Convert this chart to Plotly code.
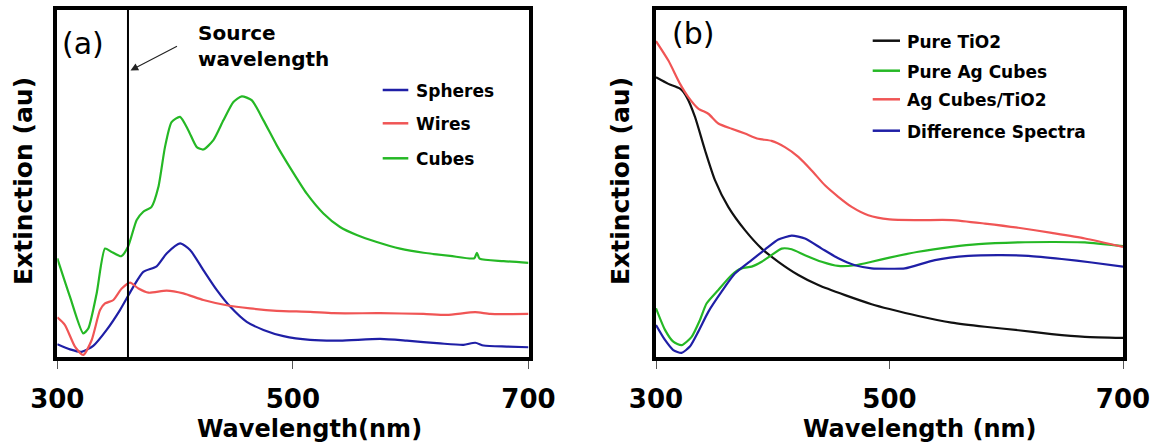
import plotly.graph_objects as go

W, H = 1163, 444

# ---------------- Panel (a): extinction of Ag nanostructures ----------------
wl_spheres = [300, 310.8, 320.6, 330.5, 341.9, 353.2, 364.5, 373, 384.3, 392.8, 404.2,
              412.7, 424, 435.3, 446.7, 460.8, 475, 492, 514.6, 540, 574, 596.7, 625,
              644.9, 654.8, 661.9, 681.6, 700]
ext_spheres = [3.7, 2.2, 1.5, 3.2, 7.8, 13.5, 20.2, 24.5, 26.1, 29.8, 32.7,
               30.8, 25.0, 19.3, 14.5, 10.1, 7.8, 6.0, 4.9, 4.7, 5.2, 4.7, 3.9,
               3.5, 4.1, 3.3, 3.0, 2.8]

wl_wires = [300, 306.5, 315, 322, 329.2, 336.3, 340.5, 347.6, 354.7, 361.8, 368.9,
            377.4, 392.8, 407, 424, 443.8, 463.6, 486.3, 514.6, 534.4, 574, 610.9,
            630.7, 654.8, 667.6, 700]
ext_wires = [11.4, 9.2, 3.0, 0.6, 4.9, 13.5, 15.4, 16.4, 19.7, 21.4, 19.7,
             18.5, 19.1, 18.3, 16.4, 14.9, 14.0, 13.3, 13.0, 12.6, 12.6, 12.4,
             12.1, 12.9, 12.4, 12.4]

wl_cubes = [300, 310.8, 322, 326.3, 333.4, 340.5, 345.8, 354.3, 360, 367.4, 373,
            380, 385.8, 391.4, 397, 404.2, 411.3, 418.4, 424, 432.5, 441, 449.5,
            456.6, 465, 475, 486.3, 497.6, 511.8, 525.9, 540, 554.2, 571.2, 591,
            610.9, 633.5, 654, 656.2, 658.5, 678.8, 700]
ext_cubes = [28.4, 17.3, 6.8, 8.2, 18.3, 31.2, 30.3, 29.0, 31.7, 39.4, 41.8,
             43.2, 48.9, 60.4, 67.6, 69.1, 65.2, 60.4, 59.7, 62.4, 68.1, 73.4,
             75.0, 73.9, 68.1, 60.9, 54.5, 47.0, 41.3, 37.4, 35.1, 33.1, 31.2,
             30.0, 29.1, 28.4, 30.0, 28.3, 27.6, 27.1]

SOURCE_NM = 360

# ---------------- Panel (b): Ag cubes on TiO2 ----------------
wl_tio2 = [300, 310.6, 320.6, 326.3, 333.4, 342, 350.5, 361.9, 376.2, 390.5, 404.8,
           421.9, 439, 461.9, 484.7, 500, 524.7, 553.2, 581.8, 610.3, 638.9, 667.4, 700]
ext_tio2 = [80.5, 78.6, 77.2, 74.8, 69.1, 59.5, 50.9, 43.2, 36.5, 31.2, 27.4,
            23.6, 20.7, 17.8, 15.2, 13.8, 11.8, 9.9, 8.7, 7.7, 6.6, 5.8, 5.5]

wl_agcubes = [300, 307.7, 314.8, 321.9, 330.5, 337.6, 343.3, 353.4, 364.8, 373.3,
              381.9, 390.5, 399, 407.6, 416.2, 427.6, 441.9, 456.1, 470.4, 484.7,
              500, 524.7, 553.2, 576.1, 610.3, 638.9, 667.4, 700]
ext_agcubes = [14.0, 7.8, 4.4, 3.4, 5.8, 10.6, 15.4, 19.3, 23.6, 25.5,
               26.0, 27.4, 29.3, 31.2, 31.0, 29.3, 27.4, 26.2, 26.4, 27.4,
               28.6, 30.3, 31.7, 32.5, 33.0, 33.1, 33.0, 31.9]

wl_agtio2 = [300, 310.6, 320.6, 327.7, 336.2, 344.8, 353.4, 364.8, 376.2, 387.6,
             399, 410.4, 421.9, 433.3, 444.7, 456.1, 467.6, 481.8, 500, 524.7,
             553.2, 581.8, 610.3, 638.9, 667.4, 700]
ext_agtio2 = [90.9, 85.3, 78.6, 74.8, 71.5, 70.0, 67.2, 65.7, 64.3, 62.8,
              62.2, 60.4, 57.6, 53.7, 49.4, 46.1, 43.2, 40.8, 39.6, 39.4,
              39.4, 38.4, 37.2, 35.7, 34.1, 31.7]

wl_diff = [300, 307.7, 314.8, 321.9, 329, 336.2, 344.8, 356.2, 367.6, 381.9,
           393.3, 404.8, 416.2, 427.6, 441.9, 456.1, 470.4, 484.7, 499, 513.2,
           538.9, 567.5, 596, 618.9, 647.5, 673.2, 700]
ext_diff = [9.2, 4.9, 2.0, 1.2, 3.0, 7.3, 13.0, 18.8, 24.0, 27.9,
            30.9, 33.8, 34.9, 34.1, 31.2, 28.4, 26.4, 25.5, 25.4, 25.5,
            27.9, 29.1, 29.3, 29.1, 28.2, 27.2, 26.0]

BLUE = "#1f1fa6"
RED = "#f05555"
GREEN = "#25b825"
BLACK = "#111111"

FONT = "DejaVu Sans"


def px(x):
    return x / W


def py(y):
    return 1 - y / H


fig = go.Figure()

line_kw = dict(mode="lines", line_shape="spline", showlegend=False, hoverinfo="skip")

series_a = [
    ("Spheres", wl_spheres, ext_spheres, BLUE),
    ("Wires", wl_wires, ext_wires, RED),
    ("Cubes", wl_cubes, ext_cubes, GREEN),
]
for name, xs, ys, col in series_a:
    fig.add_trace(go.Scatter(x=xs, y=ys, name=name, xaxis="x", yaxis="y",
                             line=dict(color=col, width=2.2, smoothing=0.6), **line_kw))

series_b = [
    ("Pure TiO2", wl_tio2, ext_tio2, BLACK),
    ("Pure Ag Cubes", wl_agcubes, ext_agcubes, GREEN),
    ("Ag Cubes/TiO2", wl_agtio2, ext_agtio2, RED),
    ("Difference Spectra", wl_diff, ext_diff, BLUE),
]
for name, xs, ys, col in series_b:
    fig.add_trace(go.Scatter(x=xs, y=ys, name=name, xaxis="x2", yaxis="y2",
                             line=dict(color=col, width=2.2, smoothing=0.6), **line_kw))

# axis frames
xdom_a = [px(57.3), px(528.5)]
xdom_b = [px(656), px(1123)]
ydom = [py(357), py(9.5)]

xaxis_common = dict(
    range=[300, 700], tickvals=[300, 500, 700], ticktext=["300", "500", "700"],
    showline=True, linecolor="black", linewidth=3.5, mirror=True,
    ticks="outside", ticklen=8, tickwidth=1, tickcolor="#555",
    tickfont=dict(family=FONT, size=26, color="black", weight="bold"),
    ticklabelstandoff=8, showgrid=False, zeroline=False, fixedrange=True,
    automargin=False,
)
yaxis_common = dict(
    range=[0, 100], showticklabels=False, ticks="",
    showline=True, linecolor="black", linewidth=3.5, mirror=True,
    showgrid=False, zeroline=False, fixedrange=True, automargin=False,
)

fig.update_layout(
    width=W, height=H,
    margin=dict(l=0, r=0, t=0, b=0),
    paper_bgcolor="white", plot_bgcolor="white",
    xaxis=dict(domain=xdom_a, anchor="y", **xaxis_common),
    yaxis=dict(domain=ydom, anchor="x", **yaxis_common),
    xaxis2=dict(domain=xdom_b, anchor="y2", **xaxis_common),
    yaxis2=dict(domain=ydom, anchor="x2", **yaxis_common),
    showlegend=False,
)

# source wavelength marker
fig.add_shape(type="line", xref="x", yref="y domain", x0=SOURCE_NM, x1=SOURCE_NM,
              y0=0, y1=1, line=dict(color="black", width=2))

annotations = []
bold = dict(family=FONT, color="black", weight="bold")
centered = dict(xref="paper", yref="paper", xanchor="center", yanchor="middle",
                showarrow=False)

# panel labels
annotations.append(dict(text="(a)", x=px(83), y=py(43), **centered,
                        font=dict(family=FONT, size=30, color="black")))
annotations.append(dict(text="(b)", x=px(693), y=py(33), **centered,
                        font=dict(family=FONT, size=30, color="black")))

# axis titles
for cx, txt in [(309, "Wavelength(nm)"), (920, "Wavelength (nm)")]:
    annotations.append(dict(text=txt, x=px(cx), y=py(429), **centered,
                            font=dict(size=24, **bold)))
for cx in (24, 621):
    annotations.append(dict(text="Extinction (au)", x=px(cx), y=py(181), textangle=-90,
                            **centered, font=dict(size=25, **bold)))

# source wavelength callout
annotations.append(dict(text="Source<br>wavelength", x=px(196), y=py(46), xref="paper",
                        yref="paper", xanchor="left", yanchor="middle", align="left",
                        showarrow=False, font=dict(size=20, **bold)))
annotations.append(dict(text="", x=px(130.5), y=py(70.5), xref="paper", yref="paper",
                        ax=48, ay=-25, showarrow=True, arrowhead=2, arrowsize=1.4,
                        arrowwidth=1.1, arrowcolor="#222", standoff=0))

# legends
def legend(items, x_line0, x_line1, x_text, ys, size):
    for (name, _, _, col), yy in zip(items, ys):
        fig.add_shape(type="line", xref="paper", yref="paper",
                      x0=px(x_line0), x1=px(x_line1), y0=py(yy), y1=py(yy),
                      line=dict(color=col, width=2.5))
        annotations.append(dict(text=name, x=px(x_text), y=py(yy + 1), xref="paper",
                                yref="paper", xanchor="left", yanchor="middle",
                                showarrow=False, font=dict(size=size, **bold)))


legend(series_a, 382.7, 408.3, 414, [90, 123.3, 158.3], 17)
legend(series_b, 872.7, 900, 905, [40.7, 70.7, 99.3, 130.7], 17)

fig.update_layout(annotations=annotations)

fig.write_html("out.html")
